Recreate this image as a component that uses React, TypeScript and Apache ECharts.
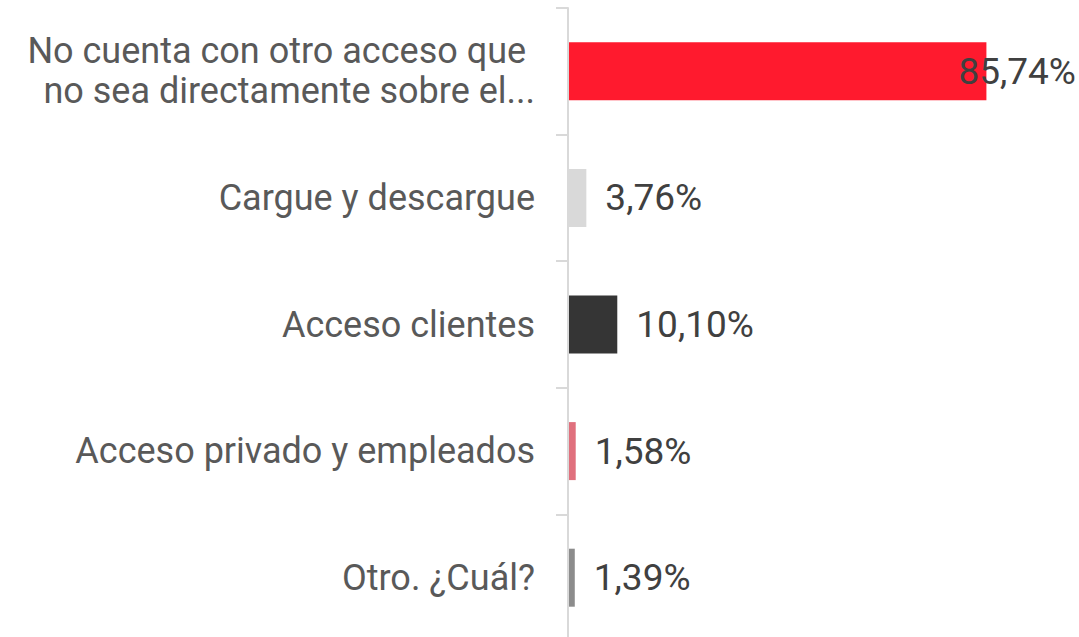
import React, { useEffect, useRef } from "react";
import * as echarts from "echarts";

const categories = [
  "No cuenta con otro acceso que \nno sea directamente sobre el...",
  "Cargue y descargue",
  "Acceso clientes",
  "Acceso privado y empleados",
  "Otro. ¿Cuál?",
];
const values = [85.74, 3.76, 10.1, 1.58, 1.39];
const colors = ["#FF1A2E", "#D9D9D9", "#353535", "#E0707D", "#8C8C8C"];

export default function App() {
  const ref = useRef<HTMLDivElement>(null);
  useEffect(() => {
    if (!ref.current) return;
    const chart = echarts.init(ref.current, null, { renderer: "svg" });
    const font = "Roboto";
    chart.setOption({
      animation: false,
      grid: { left: 568, top: 8, width: 488, height: 633, containLabel: false },
      xAxis: {
        type: "value",
        min: 0,
        max: 100,
        show: false,
      },
      yAxis: {
        type: "category",
        data: categories,
        inverse: true,
        axisLine: { show: true, lineStyle: { color: "#D9D9D9", width: 2 }, onZero: false },
        axisTick: { show: true, length: 12, lineStyle: { color: "#D9D9D9", width: 2 } },
        axisLabel: {
          margin: 33,
          color: "#595959",
          fontFamily: font,
          fontSize: 36,
          lineHeight: 40,
          align: "right",
        },
        z: 5,
      },
      series: [
        {
          type: "bar",
          barWidth: 58,
          data: values.map((v, i) => ({
            value: v,
            itemStyle: { color: colors[i] },
            label: i === 0 ? { offset: [-47, 0] } : undefined,
          })),
          label: {
            show: true,
            position: "right",
            distance: 19,
            color: "#404040",
            fontFamily: font,
            fontSize: 37,
            formatter: (p: any) => p.value.toFixed(2).replace(".", ",") + "%",
          },
        },
      ],
    });
    return () => chart.dispose();
  }, []);
  return (
    <div
      ref={ref}
      style={{ position: "absolute", left: 0, top: 0, width: 1079, height: 650 }}
    />
  );
}
